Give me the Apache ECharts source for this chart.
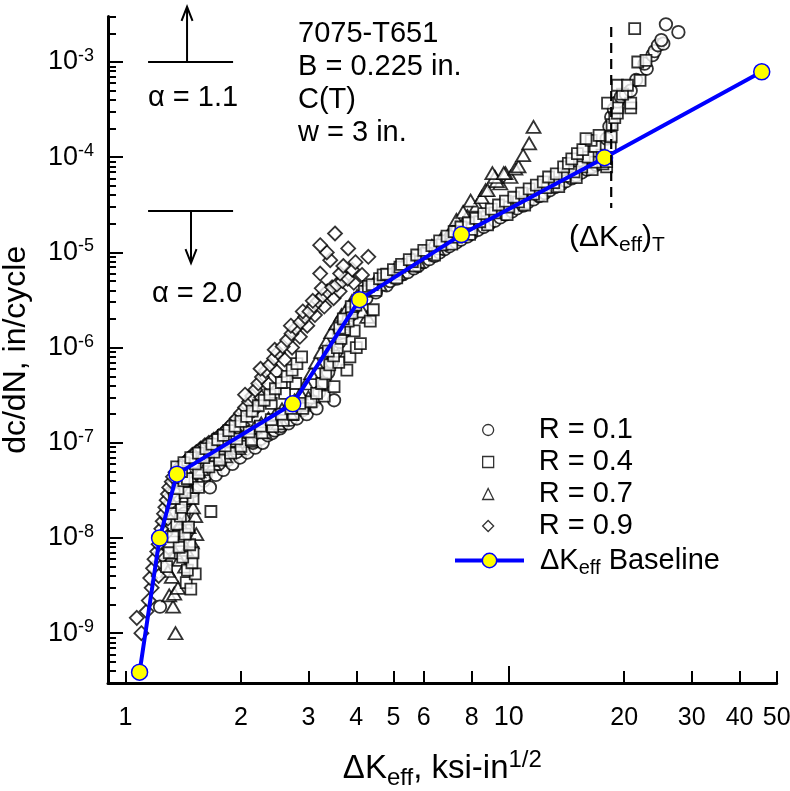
<!DOCTYPE html>
<html><head><meta charset="utf-8">
<script src="https://cdn.jsdelivr.net/npm/echarts@6/dist/echarts.min.js"></script>
<style>html,body{margin:0;padding:0;background:#fff}#c{width:790px;height:791px}</style>
</head><body><div id="c"></div>
<script>
const F = '"Liberation Sans", Arial, sans-serif';

// ---- tick values ----
const xTicks = [1, 2, 3, 4, 5, 6, 8, 10, 20, 30, 40, 50];
const xLongTicks = [10];
const yMajor = [1e-9, 1e-8, 1e-7, 1e-6, 1e-5, 1e-4, 1e-3];
const yMantissas = [2, 3, 4, 5, 6, 7, 8, 9];
const yExponents = [-10, -9, -8, -7, -6, -5, -4, -3];

// ---- data: [dKeff (ksi-in^1/2), dc/dN (in/cycle)] ----
const r01 = [[1.23,1.9e-9],[1.32,6.0e-9],[1.38,1.2e-8],[1.42,1.8e-8],[1.45,2.5e-8],[1.40,3.2e-8],[1.50,3.1e-8],[1.55,3.6e-8],
[1.60,4.0e-8],[1.62,4.6e-8],[1.66,3.4e-8],[1.72,4.6e-8],[1.80,5.2e-8],[1.75,6.0e-8],[1.85,6.6e-8],[1.90,6.0e-8],[1.99,7.0e-8],[1.95,8.0e-8],[2.05,8.5e-8],[2.08,7.9e-8],[2.18,8.9e-8],[2.15,1.0e-7],[2.25,1.1e-7],[2.28,1.0e-7],[2.35,1.2e-7],[2.41,1.26e-7],[2.45,1.35e-7],[2.53,1.42e-7],[2.55,1.5e-7],[2.66,1.6e-7],[2.70,1.75e-7],[2.80,1.8e-7],[2.90,2.2e-7],[2.97,2.0e-7],[3.10,2.7e-7],[3.15,2.3e-7],[3.5,2.8e-7],
[3.2,3.4e-7],[3.3,4.3e-7],[3.38,5.5e-7],[3.46,7.0e-7],[3.54,9.0e-7],[3.45,1.0e-6],[3.62,1.15e-6],[3.60,1.4e-6],[3.70,1.45e-6],[3.78,1.8e-6],[3.87,2.2e-6],[3.96,2.6e-6],[4.05,3.0e-6],
[4.25,3.3e-6],[4.4,4.1e-6],[4.5,3.8e-6],[4.8,4.5e-6],[4.9,5.0e-6],[5.1,5.3e-6],[5.3,5.9e-6],[5.45,6.2e-6],[5.65,6.8e-6],[5.8,7.2e-6],[6.0,7.9e-6],[6.2,8.5e-6],[6.4,9.2e-6],[6.6,1.0e-5],[6.8,1.08e-5],[7.0,1.16e-5],[7.3,1.27e-5],[7.5,1.36e-5],[7.8,1.47e-5],[8.0,1.58e-5],[8.3,1.72e-5],[8.6,1.85e-5],[8.9,2.0e-5],[9.2,2.15e-5],[9.5,2.33e-5],[9.8,2.5e-5],[10.2,2.7e-5],[10.5,2.9e-5],[10.9,3.1e-5],[11.2,3.35e-5],[11.6,3.6e-5],[12.0,3.9e-5],[12.4,4.2e-5],[12.8,4.5e-5],[13.2,4.85e-5],[13.7,5.2e-5],[14.1,5.6e-5],[14.6,6.0e-5],[15.0,6.4e-5],[15.5,6.9e-5],[16.0,7.4e-5],[16.4,7.8e-5],[16.9,8.3e-5],[17.2,8.8e-5],[17.6,9.4e-5],
[18.0,1.57e-4],[18.3,2.1e-4],[18.5,2.64e-4],[18.8,3.2e-4],[19.2,3.8e-4],[19.6,4.3e-4],[20.2,4.6e-4],[20.8,5.0e-4],[21.5,6.5e-4],[22.9,8.5e-4],[22.6,9.6e-4],[23.7,1.18e-3],[24.0,1.3e-3],[24.5,1.5e-3],[25.3,1.56e-3],[25.0,1.7e-3],[27.7,2.06e-3],[25.7,2.49e-3]];

const r04 = [[1.44,3.4e-9],[1.48,2.9e-9],[1.52,4.2e-9],[1.45,4.6e-9],[1.28,5.0e-9],[1.49,5.5e-9],[1.41,6.3e-9],[1.30,7.0e-9],[1.50,7.0e-9],[1.38,8.0e-9],[1.47,8.5e-9],[1.33,1.03e-8],[1.43,1.1e-8],[1.46,1.3e-8],[1.36,1.4e-8],[1.39,1.7e-8],[1.32,1.8e-8],[1.67,1.9e-8],[1.40,2.1e-8],[1.34,2.6e-8],[1.50,2.6e-8],[1.43,3.0e-8],[1.37,3.3e-8],[1.55,3.4e-8],[1.42,4.0e-8],
[1.45,4.2e-8],[1.55,4.8e-8],[1.40,5.0e-8],[1.36,5.6e-8],[1.65,5.6e-8],[1.52,6.0e-8],[1.42,6.2e-8],[1.76,6.6e-8],[1.48,7.0e-8],[1.60,7.0e-8],[1.55,7.8e-8],[1.88,7.8e-8],[1.70,8.0e-8],[1.62,8.7e-8],[2.0,9.2e-8],[1.82,9.3e-8],[1.68,9.7e-8],[1.74,1.08e-7],[2.13,1.08e-7],[1.95,1.1e-7],[1.80,1.2e-7],[2.27,1.27e-7],[2.1,1.3e-7],[1.86,1.34e-7],[2.42,1.48e-7],[1.93,1.5e-7],[2.25,1.5e-7],[2.0,1.68e-7],[2.58,1.72e-7],[2.4,1.75e-7],[2.07,1.9e-7],[2.74,2.0e-7],[2.55,2.0e-7],[2.14,2.15e-7],[2.90,2.3e-7],[2.7,2.3e-7],[2.22,2.45e-7],[2.85,2.6e-7],[2.4,2.6e-7],[3.05,2.7e-7],[2.30,2.8e-7],[2.38,3.2e-7],[2.6,3.3e-7],[2.46,3.7e-7],[2.78,4.2e-7],[2.55,4.3e-7],[2.64,5.0e-7],[2.72,5.8e-7],[2.80,6.8e-7],[2.88,8.0e-7],
[3.3,3.1e-7],[3.15,3.3e-7],[3.5,3.9e-7],[3.25,4.2e-7],[3.33,5.3e-7],[3.78,5.8e-7],[3.41,6.6e-7],[3.6,7.0e-7],[3.85,8.0e-7],[3.49,8.2e-7],[3.38,9.2e-7],[3.57,1.0e-6],[4.0,1.0e-6],[4.1,1.1e-6],[3.65,1.25e-6],[3.95,1.5e-6],[3.73,1.55e-6],[3.62,1.6e-6],[3.81,1.9e-6],[4.35,1.9e-6],[3.7,2.0e-6],[3.90,2.3e-6],[4.43,2.5e-6],[3.88,2.7e-6],[3.99,2.8e-6],[4.08,3.3e-6],
[4.2,3.9e-6],[4.5,4.0e-6],[4.3,4.4e-6],[4.4,4.6e-6],[4.6,5.3e-6],[5.1,5.4e-6],[4.7,5.8e-6],[4.8,5.9e-6],[5.0,6.6e-6],[5.2,7.0e-6],[5.7,7.2e-6],[5.25,7.5e-6],[5.6,8.0e-6],[5.5,8.4e-6],[5.75,9.4e-6],[6.4,9.4e-6],[6.1,9.8e-6],[6.0,1.05e-5],[6.3,1.18e-5],[6.7,1.2e-5],[7.1,1.22e-5],[6.6,1.32e-5],[7.3,1.45e-5],[6.9,1.48e-5],[7.9,1.55e-5],[7.2,1.65e-5],[8.0,1.75e-5],[7.5,1.85e-5],[8.8,1.95e-5],[7.85,2.05e-5],[8.4,2.1e-5],[8.2,2.28e-5],[9.9,2.5e-5],[8.6,2.55e-5],[9.2,2.6e-5],[9.0,2.85e-5],[10.0,3.0e-5],[9.4,3.15e-5],[11.0,3.15e-5],[10.6,3.4e-5],[9.8,3.45e-5],[10.3,3.8e-5],[12.2,3.9e-5],[11.6,4.1e-5],[10.8,4.2e-5],[11.3,4.65e-5],[12.5,4.8e-5],[13.5,4.9e-5],[11.8,5.1e-5],[13.1,5.4e-5],[12.3,5.5e-5],[15.0,6.1e-5],[12.7,6.2e-5],[14.0,6.3e-5],[13.3,6.7e-5],[14.8,7.0e-5],[16.5,7.4e-5],[13.9,7.9e-5],[15.5,7.9e-5],[18.0,7.9e-5],[17.6,8.5e-5],[14.3,8.6e-5],[16.8,8.9e-5],[18.0,9.0e-5],[14.6,9.6e-5],[16.1,1.0e-4],[17.5,1.05e-4],[15.1,1.09e-4],[15.6,1.2e-4],[18.4,1.3e-4],[16.8,1.3e-4],[16.4,1.5e-4],[15.9,1.57e-4],[18.5,1.64e-4],[17.2,1.7e-4],
[18.6,2.2e-4],[18.9,2.6e-4],[19.2,2.9e-4],[19.2,3.3e-4],[20.8,3.3e-4],[18.1,3.7e-4],[20.8,3.7e-4],[19.8,4.6e-4],[19.2,5.7e-4],[20.4,5.7e-4],[22.0,6.4e-4],[21.7,1.0e-3],[22.8,1.04e-3],[21.3,2.24e-3]];

const r07 = [[1.35,1.0e-9],[1.33,1.9e-9],[1.30,2.5e-9],[1.34,2.6e-9],[1.37,3.0e-9],[1.32,3.9e-9],[1.29,4.5e-9],[1.43,5.0e-9],[1.38,5.9e-9],[1.35,7.0e-9],[1.44,7.5e-9],[1.49,9.0e-9],[1.40,9.5e-9],[1.53,1.1e-8],[1.36,1.2e-8],[1.46,1.3e-8],[1.39,1.4e-8],[1.44,1.6e-8],[1.52,1.7e-8],[1.50,2.1e-8],[1.42,2.6e-8],[1.47,3.2e-8],[1.41,3.9e-8],[1.48,4.3e-8],[1.55,5.0e-8],
[1.58,5.3e-8],[1.60,6.0e-8],[1.70,6.0e-8],[1.66,6.6e-8],[1.82,7.2e-8],[1.72,7.4e-8],[1.78,8.5e-8],[1.97,8.8e-8],[1.85,9.5e-8],[1.92,1.05e-7],[2.12,1.05e-7],[2.0,1.15e-7],[2.08,1.3e-7],[2.3,1.3e-7],[2.17,1.45e-7],[2.26,1.6e-7],[2.5,1.6e-7],[2.36,1.8e-7],[2.46,2.0e-7],[2.7,2.0e-7],[2.56,2.25e-7],[2.66,2.5e-7],[2.9,2.5e-7],[2.76,2.8e-7],[3.0,3.0e-7],
[2.86,3.3e-7],[2.96,4.2e-7],[3.05,5.4e-7],[3.14,7.0e-7],[3.24,9.0e-7],[3.34,1.15e-6],[3.44,1.45e-6],[3.55,1.8e-6],[3.66,2.2e-6],[4.27,2.1e-6],[4.15,2.4e-6],[3.78,2.6e-6],[3.90,3.1e-6],[4.02,3.5e-6],
[4.2,4.2e-6],[4.6,4.6e-6],[4.45,4.8e-6],[4.7,5.6e-6],[5.15,6.0e-6],[5.0,6.4e-6],[5.3,7.4e-6],[5.8,8.0e-6],[5.6,8.6e-6],[5.95,1.0e-5],[6.5,1.1e-5],[6.3,1.17e-5],[6.65,1.38e-5],[6.9,1.45e-5],[7.0,1.6e-5],[7.15,1.7e-5],[7.3,1.9e-5],[7.3,2.2e-5],[7.8,2.4e-5],[7.6,2.66e-5],[8.25,3.1e-5],[7.95,3.5e-5],[8.5,3.8e-5],[8.7,4.5e-5],[8.8,4.5e-5],[9.5,5.3e-5],[9.3,5.6e-5],[9.2,6.2e-5],[10.1,6.2e-5],[9.06,6.8e-5],[9.8,6.8e-5],[9.7,6.8e-5],[10.4,7.6e-5],[10.6,8.0e-5],[10.9,1.05e-4],[11.3,1.4e-4],[11.6,2.08e-4]];

const r09 = [[1.10,1.0e-9],[1.07,1.45e-9],[1.135,1.7e-9],[1.15,2.2e-9],[1.17,3.0e-9],[1.16,3.8e-9],[1.18,4.8e-9],[1.22,4.0e-9],[1.19,6.0e-9],[1.25,6.5e-9],[1.21,7.2e-9],[1.22,8.6e-9],[1.23,1.0e-8],[1.27,1.1e-8],[1.24,1.25e-8],[1.25,1.5e-8],[1.29,1.6e-8],[1.26,1.8e-8],[1.27,2.1e-8],[1.31,2.3e-8],[1.28,2.5e-8],[1.29,2.9e-8],[1.34,3.1e-8],[1.30,3.4e-8],[1.32,3.9e-8],[1.33,4.4e-8],[1.35,4.9e-8],[1.37,5.3e-8],[1.40,5.8e-8],[1.43,6.3e-8],[1.46,6.8e-8],[1.49,7.4e-8],[1.53,8.0e-8],[1.57,8.7e-8],[1.61,9.4e-8],[1.65,1.0e-7],[1.70,1.08e-7],[1.75,9.5e-8],[1.75,1.17e-7],[1.80,1.28e-7],[1.88,1.2e-7],[1.85,1.42e-7],[1.90,1.6e-7],[2.02,1.55e-7],[1.95,1.8e-7],[2.0,2.05e-7],[2.05,2.35e-7],[2.16,2.2e-7],[2.10,2.7e-7],[2.14,3.1e-7],[2.05,3.2e-7],[2.26,3.0e-7],[2.18,3.6e-7],[2.22,4.2e-7],[2.36,4.1e-7],[2.27,4.9e-7],[2.32,5.7e-7],[2.48,5.6e-7],[2.25,6.0e-7],[2.38,6.6e-7],[2.44,7.7e-7],[2.60,7.5e-7],[2.50,8.9e-7],[2.45,9.5e-7],[2.72,1.0e-6],[2.57,1.03e-6],[2.64,1.2e-6],[2.85,1.3e-6],[2.71,1.4e-6],[2.78,1.6e-6],[2.70,1.7e-6],[2.98,1.7e-6],[2.86,1.85e-6],[2.94,2.1e-6],[3.12,2.2e-6],[2.90,2.4e-6],[3.02,2.4e-6],[3.30,2.7e-6],[3.10,2.75e-6],[3.18,3.1e-6],[3.08,3.1e-6],[3.49,3.3e-6],[3.27,3.5e-6],[3.36,3.9e-6],[3.62,3.9e-6],[3.25,4.2e-6],[3.46,4.3e-6],[3.56,4.6e-6],[3.94,4.8e-6],[3.68,5.0e-6],[3.80,5.3e-6],[4.14,5.8e-6],[3.22,6.0e-6],[3.63,6.0e-6],[3.90,6.6e-6],[3.70,7.2e-6],[3.98,7.9e-6],[3.42,8.3e-6],[4.30,9.0e-6],[3.35,1.0e-5],[3.81,1.1e-5],[3.22,1.19e-5],[3.52,1.58e-5]];

const baseK = [1.088, 1.227, 1.362, 2.73, 4.08, 7.52, 17.77, 45.7];
const baseRate = [3.9e-10, 1.0e-8, 4.69e-8, 2.57e-7, 3.19e-6, 1.54e-5, 9.9e-5, 7.9e-4];

// annotation anchors (data units)
const alphaHi = { y: 1e-3, x0: 1.145, x1: 1.908, ax: 1.447, ay: 3.8e-3 };
const alphaLo = { y: 2.72e-5, x0: 1.145, x1: 1.908, ax: 1.482, ay: 7.74e-6 };
const threshold = { x: 18.5, y0: 2.33e-3, y1: 2.92e-5 };

const yMinor = [];
yExponents.forEach(e => yMantissas.forEach(m => {
  const v = Number(m + 'e' + e);
  if (v >= 3e-10 && v <= 3e-3) yMinor.push(v);
}));

const chart = echarts.init(document.getElementById('c'), null, { renderer: 'canvas' });

const scatterStyle = { color: '#fff', borderColor: '#000', borderWidth: 1.8 };
function sc(name, data, symbol, size, z) {
  return { name, type: 'scatter', data, symbol, symbolSize: size, itemStyle: scatterStyle,
    z, xAxisIndex: 0, yAxisIndex: 0, emphasis: { disabled: true }, silent: true };
}

const option = {
  animation: false,
  backgroundColor: '#fff',
  grid: { left: 108, right: 13.3, top: 16.6, bottom: 108, containLabel: false, outerBoundsMode: 'none' },
  xAxis: [
    { type: 'log', logBase: 10, min: 0.9, max: 50, position: 'bottom',
      axisLine: { show: true, lineStyle: { color: '#000', width: 3 } },
      axisTick: { show: true, inside: true, length: 12, customValues: xTicks, lineStyle: { color: '#000', width: 2 } },
      axisLabel: { show: true, customValues: xTicks, margin: 20, color: '#000',
        formatter: v => Math.round(v) === 10 ? '{b|10}' : '{n|' + Math.round(v) + '}',
        rich: { n: { fontSize: 25, fontFamily: F, color: '#000', lineHeight: 30 },
                b: { fontSize: 27, fontFamily: F, color: '#000', lineHeight: 30 } } },
      splitLine: { show: false }, minorTick: { show: false },
      name: '{a|ΔK}{s|eff}{a|, ksi-in}{p|1/2}', nameLocation: 'middle', nameGap: 65,
      nameTextStyle: { rich: {
        a: { fontSize: 33, fontFamily: F, color: '#000', lineHeight: 42 },
        s: { fontSize: 24, fontFamily: F, color: '#000', lineHeight: 24, verticalAlign: 'bottom' },
        p: { fontSize: 24, fontFamily: F, color: '#000', lineHeight: 16, verticalAlign: 'top' } } } },
    { type: 'log', logBase: 10, min: 0.9, max: 50, position: 'bottom',
      axisLine: { show: false },
      axisTick: { show: true, inside: true, length: 17, customValues: xLongTicks, lineStyle: { color: '#000', width: 2 } },
      axisLabel: { show: false }, splitLine: { show: false } }
  ],
  yAxis: [
    { type: 'log', logBase: 10, min: 3e-10, max: 3e-3, position: 'left',
      axisLine: { show: true, lineStyle: { color: '#000', width: 3 } },
      axisTick: { show: true, inside: true, length: 15, customValues: yMajor, lineStyle: { color: '#000', width: 2 } },
      axisLabel: { show: true, customValues: yMajor, margin: 14,
        formatter: v => '{b|10}{s|' + Math.round(Math.log10(v)) + '}',
        rich: { b: { fontSize: 27, fontFamily: F, color: '#000', lineHeight: 30 },
                s: { fontSize: 18, fontFamily: F, color: '#000', lineHeight: 18, verticalAlign: 'top' } } },
      splitLine: { show: false }, minorTick: { show: false },
      name: 'dc/dN, in/cycle', nameLocation: 'middle', nameGap: 76, nameRotate: 90,
      nameTextStyle: { fontSize: 32, fontFamily: F, color: '#000' } },
    { type: 'log', logBase: 10, min: 3e-10, max: 3e-3, position: 'left',
      axisLine: { show: false },
      axisTick: { show: true, inside: true, length: 8, customValues: yMinor, lineStyle: { color: '#000', width: 2 } },
      axisLabel: { show: false }, splitLine: { show: false } }
  ],
  legend: [
    { orient: 'vertical', left: 482, top: 414, padding: 0, itemGap: 0, itemWidth: 11, itemHeight: 11,
      selectedMode: false, data: ['R = 0.1', 'R = 0.4', 'R = 0.7', 'R = 0.9'],
      itemStyle: { borderWidth: 1.3, borderColor: '#000', color: '#fff' },
      textStyle: { fontSize: 29, fontFamily: F, color: '#000', lineHeight: 32, padding: [0, 0, 0, 40] } },
    { orient: 'vertical', left: 453, top: 546, padding: 0, itemWidth: 69, itemHeight: 18,
      selectedMode: false, data: ['Baseline'],
      itemStyle: { borderWidth: 1.5 }, lineStyle: { width: 4 },
      formatter: () => '{a|ΔK}{s|eff}{a| Baseline}',
      textStyle: { padding: [0, 0, 0, 11], rich: {
        a: { fontSize: 29, fontFamily: F, color: '#000', lineHeight: 36 },
        s: { fontSize: 20, fontFamily: F, color: '#000', lineHeight: 18, verticalAlign: 'bottom' } } } }
  ],
  series: [
    sc('R = 0.1', r01, 'circle', 12.5, 2),
    sc('R = 0.7', r07, 'triangle', [14, 12], 3),
    sc('R = 0.9', r09, 'diamond', 14, 4),
    sc('R = 0.4', r04, 'rect', 11, 5),
    { name: 'Baseline', type: 'line', data: baseK.map((k, i) => [k, baseRate[i]]),
      xAxisIndex: 0, yAxisIndex: 0, z: 10, symbol: 'circle', symbolSize: 16, showAllSymbol: true,
      lineStyle: { color: '#0000ff', width: 4 },
      itemStyle: { color: '#ffff00', borderColor: '#0000ff', borderWidth: 1.5 },
      emphasis: { disabled: true }, silent: true }
  ]
};
chart.setOption(option);

const P = (x, y) => chart.convertToPixel({ seriesIndex: 4 }, [x, y]);
const g = [];
function seg(a, b, w, dash) {
  g.push({ type: 'line', shape: { x1: a[0], y1: a[1], x2: b[0], y2: b[1] }, z: 20,
    style: { stroke: '#000', lineWidth: w, lineDash: dash || null } });
}
function alphaMark(o) {
  const l = P(o.x0, o.y), r = P(o.x1, o.y), s = P(o.ax, o.y), t = P(o.ax, o.ay);
  seg(l, r, 2);
  seg(s, t, 2);
  const dir = t[1] < s[1] ? 1 : -1;
  g.push({ type: 'polyline', z: 20, shape: { points: [[t[0] - 5.5, t[1] + dir * 14], [t[0], t[1]], [t[0] + 5.5, t[1] + dir * 14]] },
    style: { stroke: '#000', lineWidth: 2, fill: null } });
}
alphaMark(alphaHi);
alphaMark(alphaLo);
seg(P(threshold.x, threshold.y0), P(threshold.x, threshold.y1), 2.2, [10, 6]);

function txt(x, y, text, extra) {
  g.push({ type: 'text', x, y, z: 20, style: Object.assign({ text, fontSize: 29, fontFamily: F, fill: '#000',
    align: 'left', verticalAlign: 'middle' }, extra || {}) });
}
txt(298, 17.5, '7075-T651\nB = 0.225 in.\nC(T)\nw = 3 in.', { verticalAlign: 'top', lineHeight: 33 });
txt(148, 98, 'α = 1.1');
txt(152, 294, 'α = 2.0');
txt(569, 238, '{a|(ΔK}{s|eff}{a|)}{s|T}', { rich: {
  a: { fontSize: 30, fontFamily: F, fill: '#000', lineHeight: 36 },
  s: { fontSize: 21, fontFamily: F, fill: '#000', lineHeight: 22, verticalAlign: 'bottom' } } });

chart.setOption({ graphic: g });
</script>
</body></html>
